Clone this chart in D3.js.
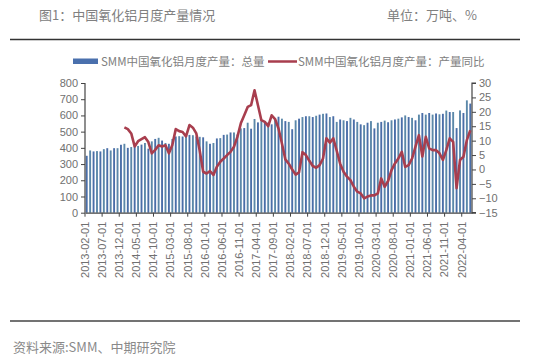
<!DOCTYPE html>
<html><head><meta charset="utf-8">
<script src="https://cdn.jsdelivr.net/npm/d3@7/dist/d3.min.js"></script>
<style>
body{margin:0;background:#fff;}
svg{display:block;}
text{font-family:"Liberation Sans","Noto Sans CJK SC",sans-serif;}
.cjk{font-family:"Noto Sans CJK SC",sans-serif;}
</style></head>
<body><svg id="c" width="535" height="360"></svg>
<script>
// monthly categories 2013-02 .. 2022-06
const months = [];
for (let y = 2013; y <= 2022; y++) for (let m = 1; m <= 12; m++) {
  if ((y === 2013 && m < 2) || (y === 2022 && m > 6)) continue;
  months.push(y + "-" + String(m).padStart(2, "0") + "-01");
}
// SMM China alumina monthly output: total (10k t)
const output = [
  351,384,378,380,378,392,398,384,398,398,419,
  425,400,405,410,412,420,430,395,440,455,462,445,
  430,425,455,470,472,470,475,480,478,470,468,465,
  440,425,430,458,460,480,482,495,495,482,520,522,
  555,518,578,557,574,563,557,545,575,592,580,565,
  560,515,570,580,590,595,595,590,598,605,610,612,
  590,595,560,575,570,565,585,575,560,545,540,555,
  565,520,555,560,568,558,570,575,580,588,600,590,
  585,570,605,615,605,615,605,612,607,610,630,621,
  621,522,631,615,693,673
];
// year-on-year (%)
const yoy = [
  null,null,null,null,null,null,null,null,null,null,null,
  14.6,14.0,12.5,8.0,9.8,10.5,11.2,9.5,5.6,6.8,8.4,8.0,
  8.4,5.6,8.5,14.0,13.3,13.0,11.5,15.4,14.5,12.5,6.5,-0.8,
  -1.4,-0.6,-1.9,0.9,2.7,3.8,5.0,6.1,7.9,11.3,16.0,18.8,
  21.7,22.3,27.5,22.3,17.1,16.5,15.0,18.8,17.5,14.2,9.0,3.5,
  2.0,0.0,-1.8,-1.0,6.0,5.0,3.0,1.2,0.6,1.5,3.8,10.8,
  9.3,10.8,6.5,2.0,-0.8,-2.5,-3.7,-6.0,-7.7,-8.3,-10.0,-9.4,
  -9.0,-9.0,-8.3,-3.1,-6.0,-4.0,-0.2,2.1,3.8,6.1,0.9,1.5,
  3.8,7.9,11.9,4.5,11.3,7.3,6.7,6.7,5.6,3.3,6.7,10.8,
  9.6,-6.5,3.3,4.4,10.2,13.6
];
const leftTicks = [0,100,200,300,400,500,600,700,800];
const rightTicks = [-15,-10,-5,0,5,10,15,20,25,30];
const xLabels = months.filter((d, i) => i % 5 === 0);

const svg = d3.select("#c");
const L = 85, R = 472, T = 83, B = 212.7;
const padIn = 0.45;
const x = d3.scaleBand().domain(months).range([L, R]).paddingInner(padIn).paddingOuter(padIn / 2);
const y = d3.scaleLinear().domain([0, 800]).range([B, T]);
const y2 = d3.scaleLinear().domain([-15, 30]).range([B, T]);
const step = x.step();

// header
svg.append("text").attr("class","cjk").attr("x", 39).attr("y", 20).attr("font-size", 13).attr("fill", "#808080").text("图1：中国氧化铝月度产量情况");
svg.append("text").attr("class","cjk").attr("x", 387).attr("y", 20).attr("font-size", 13).attr("fill", "#808080").text("单位：万吨、%");
svg.append("line").attr("x1", 10).attr("x2", 520).attr("y1", 39.5).attr("y2", 39.5).attr("stroke", "#333").attr("stroke-width", 1.5);
svg.append("line").attr("x1", 10).attr("x2", 520).attr("y1", 321).attr("y2", 321).attr("stroke", "#444").attr("stroke-width", 1.6);
svg.append("text").attr("class","cjk").attr("x", 13).attr("y", 352).attr("font-size", 13).attr("fill", "#8a8a8a").text("资料来源:SMM、中期研究院");

// legend
svg.append("rect").attr("x", 73).attr("y", 58.5).attr("width", 25).attr("height", 5.5).attr("fill", "#4a70ad");
svg.append("text").attr("class","cjk").attr("x", 101).attr("y", 65.5).attr("font-size", 11.5).attr("fill", "#808080").text("SMM中国氧化铝月度产量：总量");
svg.append("line").attr("x1", 268).attr("x2", 297).attr("y1", 61.5).attr("y2", 61.5).attr("stroke", "#a83e4e").attr("stroke-width", 2.5);
svg.append("text").attr("class","cjk").attr("x", 298).attr("y", 65.5).attr("font-size", 11.5).attr("fill", "#808080").text("SMM中国氧化铝月度产量：产量同比");

// bars
svg.append("g").selectAll("rect").data(output).join("rect")
  .attr("x", (d, i) => x(months[i]))
  .attr("y", d => y(d))
  .attr("width", x.bandwidth())
  .attr("height", d => B - y(d))
  .attr("fill", (d, i) => i % 2 ? "#5b88a9" : "#4a6ea8");

// line
const line = d3.line().defined(d => d[1] != null)
  .x(d => x(d[0]) + x.bandwidth() / 2).y(d => y2(d[1]));
svg.append("path").datum(months.map((m, i) => [m, yoy[i]]))
  .attr("d", line).attr("fill", "none").attr("stroke", "#a83e4e")
  .attr("stroke-width", 2.6).attr("stroke-linejoin", "round");

// axes
const axL = svg.append("g").attr("transform", `translate(${L},0)`)
  .call(d3.axisLeft(y).tickValues(leftTicks).tickSize(4).tickPadding(3));
const axR = svg.append("g").attr("transform", `translate(${R},0)`)
  .call(d3.axisRight(y2).tickValues(rightTicks).tickSize(4).tickPadding(3));
const axB = svg.append("g").attr("transform", `translate(0,${B})`)
  .call(d3.axisBottom(x).tickValues(xLabels).tickSize(4).tickSizeOuter(0));
axB.selectAll(".tick").attr("transform", d => `translate(${x(d) - step * padIn / 2},0)`);
axB.selectAll(".tick text").attr("transform", "rotate(-90)")
  .attr("x", -9).attr("y", 0).attr("dy", "0.35em").attr("text-anchor", "end");
axR.select(".domain").attr("d", `M4,${T}H0V${B}H4`);
[axL, axR, axB].forEach(a => {
  a.selectAll(".domain").attr("stroke", "#444").attr("stroke-width", 1.2);
  a.selectAll(".tick line").attr("stroke", "#444");
  a.selectAll(".tick text").attr("fill", "#707070").attr("font-size", 11);
});
axL.select(".domain").attr("d", `M0,${T}V${B}`);
</script></body></html>
